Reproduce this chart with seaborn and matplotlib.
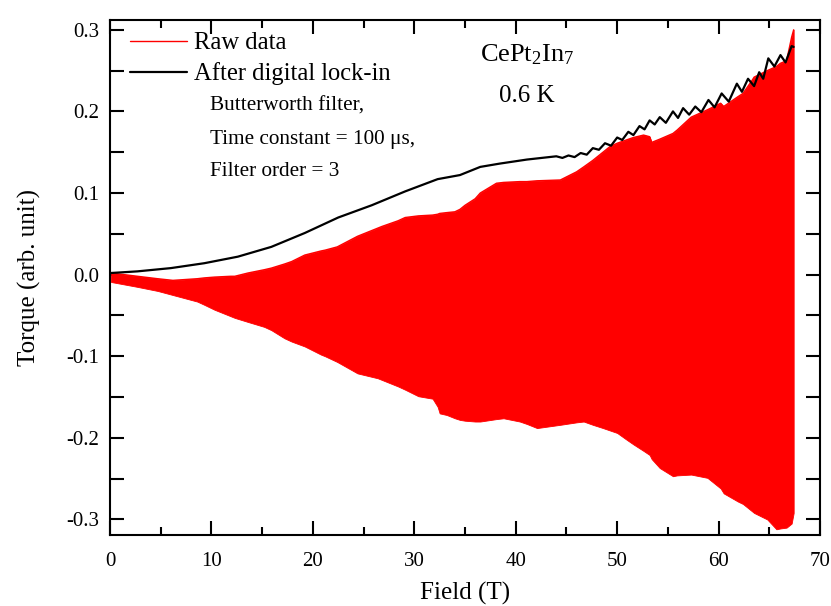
import numpy as np
import pandas as pd
import matplotlib
matplotlib.use("Agg")
import matplotlib.pyplot as plt
import seaborn as sns
from matplotlib.ticker import MultipleLocator

# raw torque signal: envelope of the fast oscillation (field in T)
raw_field = [0.1, 2.7, 4.7, 6.2, 8.6, 9.3, 10.3, 11.9, 12.3, 13.6, 15.2, 15.9, 17.2, 17.9,
             19.2, 20.8, 21.2, 22.4, 24.4, 26.4, 26.8, 28.4, 29.1, 30.4, 31.8, 32.3, 32.5,
             33.2, 34.0, 34.5, 35.0, 36.0, 36.5, 38.1, 38.8, 40.4, 41.1, 42.1, 44.4, 46.0,
             46.7, 47.6, 48.6, 49.3, 50.0, 50.9, 51.6, 52.6, 53.2, 53.4, 54.2, 55.5, 55.9,
             57.3, 58.9, 60.2, 60.5, 61.9, 62.4, 63.3, 63.5, 64.8, 65.7, 66.1, 66.7, 67.2, 67.4]
raw_upper = [0.002, -0.002, -0.005, -0.007, -0.005, -0.004, -0.003, -0.002, -0.002, 0.002, 0.006,
             0.008, 0.013, 0.016, 0.024, 0.029, 0.030, 0.034, 0.047, 0.057, 0.059, 0.066, 0.070,
             0.072, 0.073, 0.074, 0.075, 0.076, 0.077, 0.080, 0.085, 0.093, 0.100, 0.112, 0.113,
             0.114, 0.114, 0.115, 0.116, 0.126, 0.132, 0.140, 0.150, 0.157, 0.161, 0.165, 0.168,
             0.171, 0.169, 0.162, 0.166, 0.173, 0.177, 0.193, 0.202, 0.210, 0.206, 0.218, 0.222,
             0.238, 0.242, 0.250, 0.255, 0.259, 0.262, 0.291, 0.300]
raw_lower = [-0.009, -0.015, -0.020, -0.025, -0.033, -0.037, -0.043, -0.051, -0.053, -0.058,
             -0.064, -0.068, -0.078, -0.082, -0.088, -0.098, -0.100, -0.107, -0.121, -0.127,
             -0.129, -0.137, -0.141, -0.149, -0.152, -0.162, -0.170, -0.172, -0.176, -0.178,
             -0.179, -0.180, -0.180, -0.177, -0.176, -0.180, -0.183, -0.188, -0.184, -0.181,
             -0.180, -0.184, -0.188, -0.191, -0.194, -0.202, -0.208, -0.216, -0.221, -0.226,
             -0.237, -0.247, -0.246, -0.245, -0.249, -0.262, -0.268, -0.278, -0.281, -0.290,
             -0.292, -0.300, -0.312, -0.311, -0.310, -0.305, -0.292]

# signal after the digital lock-in
lock_field = [0.1, 2.7, 6.0, 9.3, 12.6, 15.9, 19.2, 22.5, 25.8, 29.1, 32.3, 34.5, 36.5, 38.4,
              41.1, 44.0, 44.6, 45.2, 45.8, 46.4, 47.0, 47.6, 48.2, 48.8, 49.4, 50.0, 50.5,
              51.1, 51.6, 52.2, 52.7, 53.2, 53.7, 54.2, 54.8, 55.5, 56.0, 56.5, 57.1, 57.7,
              58.3, 59.0, 59.6, 60.3, 61.0, 61.8, 62.3, 62.9, 63.5, 64.0, 64.4, 64.9, 65.5,
              66.1, 66.6, 67.2, 67.4]
lock_torque = [0.002, 0.004, 0.008, 0.014, 0.022, 0.034, 0.051, 0.070, 0.085, 0.102, 0.117,
               0.122, 0.132, 0.136, 0.141, 0.145, 0.143, 0.146, 0.144, 0.149, 0.147, 0.155,
               0.153, 0.161, 0.158, 0.168, 0.165, 0.175, 0.171, 0.182, 0.178, 0.189, 0.184,
               0.193, 0.186, 0.200, 0.192, 0.204, 0.196, 0.206, 0.199, 0.214, 0.205, 0.222,
               0.212, 0.234, 0.224, 0.240, 0.231, 0.248, 0.240, 0.265, 0.255, 0.269, 0.260,
               0.280, 0.279]

raw = pd.DataFrame({"Field": raw_field, "upper": raw_upper, "lower": raw_lower})
lock = pd.DataFrame({"Field": lock_field, "Torque": lock_torque})

sns.set_style("ticks", {"axes.edgecolor": "black", "text.color": "black",
                        "axes.labelcolor": "black", "xtick.color": "black",
                        "ytick.color": "black"})
plt.rcParams["font.family"] = ["Liberation Serif", "DejaVu Serif"]
plt.rcParams["mathtext.fontset"] = "custom"
plt.rcParams["mathtext.rm"] = "Liberation Serif"
plt.rcParams["mathtext.it"] = "Liberation Serif:italic"

fig = plt.figure(figsize=(8.31, 6.06), dpi=100)
ax = fig.add_axes([0.1324, 0.1172, 0.8544, 0.8498])

ax.fill_between(raw["Field"], raw["lower"], raw["upper"], color="#ff0000", lw=0.6,
                edgecolor="#ff0000")
sns.lineplot(data=raw, x="Field", y="upper", color="#ff0000", lw=1.0, ax=ax, label="Raw data")
sns.lineplot(data=lock, x="Field", y="Torque", color="black", lw=1.6, ax=ax,
             label="After digital lock-in")

ax.set_xlim(0, 70)
ax.set_ylim(-0.319, 0.312)
ax.xaxis.set_major_locator(MultipleLocator(10))
ax.xaxis.set_minor_locator(MultipleLocator(5))
ax.yaxis.set_major_locator(MultipleLocator(0.1))
ax.yaxis.set_minor_locator(MultipleLocator(0.05))
ax.yaxis.set_major_formatter(matplotlib.ticker.FuncFormatter(lambda v, p: f"{v:.1f}"))
ax.tick_params(which="both", direction="in", top=True, right=True, width=1.5,
               labelsize=15, pad=8, colors="black")
ax.tick_params(axis="x", which="major", length=10, pad=12)
ax.tick_params(axis="x", which="minor", length=6)
ax.tick_params(axis="y", which="both", length=10)
for s in ax.spines.values():
    s.set_linewidth(1.5)
    s.set_color("black")

ax.set_xlabel("Field (T)", fontsize=18, labelpad=8, color="black")
ax.set_ylabel("Torque (arb. unit)", fontsize=18, labelpad=18, color="black")

ax.legend(loc="upper left", frameon=False, fontsize=17.7, handlelength=2.32,
          handletextpad=0.28, labelspacing=0.32, borderaxespad=0.2,
          bbox_to_anchor=(0.008, 1.005), labelcolor="black")

ax.text(0.141, 0.832, "Butterworth filter,", transform=ax.transAxes, fontsize=15.3,
        va="center", ha="left", color="black")
ax.text(0.141, 0.768, "Time constant = 100 μs,", transform=ax.transAxes, fontsize=15.3,
        va="center", ha="left", color="black")
ax.text(0.141, 0.706, "Filter order = 3", transform=ax.transAxes, fontsize=15.3,
        va="center", ha="left", color="black")
ax.text(0.5875, 0.933, r"CePt$_\mathrm{2}$In$_\mathrm{7}$", transform=ax.transAxes,
        fontsize=19, va="center", ha="center", color="black")
ax.text(0.5875, 0.853, "0.6 K", transform=ax.transAxes, fontsize=18, va="center",
        ha="center", color="black")

fig.savefig("out.png", dpi=100)
